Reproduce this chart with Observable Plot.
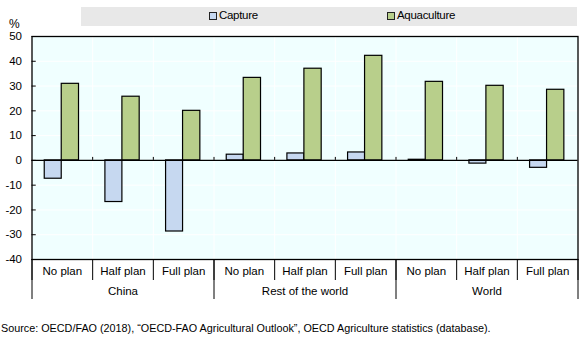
<!DOCTYPE html>
<html>
<head>
<meta charset="utf-8">
<script src="https://cdn.jsdelivr.net/npm/d3@7"></script>
<script src="https://cdn.jsdelivr.net/npm/@observablehq/plot@0.6"></script>
<style>
  body { margin: 0; background: #fff; font-family: "Liberation Sans", Arial, sans-serif; }
  #wrap { position: relative; width: 587px; height: 354px; }
  #legend { position: absolute; left: 81px; top: 7px; width: 496px; height: 19px; background: #E8E8E8; }
  .sw { position: absolute; width: 6px; height: 6px; border: 1px solid #222; top: 5px; }
  .lt { position: absolute; top: 2px; font-size: 11.5px; color: #000; letter-spacing: -0.3px; }
  #source { position: absolute; left: 1px; top: 322px; font-size: 10.8px; color: #000; white-space: nowrap; }
</style>
</head>
<body>
<div id="wrap">
  <div id="chart"></div>
  <div id="legend"></div>
  <div id="source">Source: OECD/FAO (2018), “OECD-FAO Agricultural Outlook”, OECD Agriculture statistics (database).</div>
</div>
<script>
const groups = ["China", "Rest of the world", "World"];
const plans = ["No plan", "Half plan", "Full plan"];
const seriesNames = ["Capture", "Aquaculture"];
const capture = [-7.4, -16.8, -28.7, 2.3, 2.8, 3.2, 0.25, -1.3, -3.0];
const aquaculture = [30.9, 25.7, 20.0, 33.3, 37.0, 42.2, 31.7, 30.1, 28.5];
const yTicks = [-40, -30, -20, -10, 0, 10, 20, 30, 40, 50];
const colors = ["#C6D8F0", "#B8CF8B"];

const rows = [];
groups.forEach((g, gi) => plans.forEach((p, pi) => {
  const i = gi * 3 + pi;
  rows.push({i, group: g, plan: p, capture: capture[i], aquaculture: aquaculture[i]});
}));
const boundaries = d3.range(1, 9);
const groupInfo = groups.map((g, gi) => ({g, gi}));

const chart = Plot.plot({
  width: 587,
  height: 310,
  marginTop: 36,
  marginBottom: 51,
  marginLeft: 31.5,
  marginRight: 9.5,
  style: {fontFamily: "'Liberation Sans', Arial, sans-serif", fontSize: "11px", color: "#000", background: "transparent"},
  x: {type: "linear", domain: [0, 9], axis: null},
  y: {domain: [-40, 50], axis: null},
  marks: [
    Plot.frame({fill: "#F0FFFF", stroke: null}),
    Plot.ruleY(yTicks, {stroke: "#fff", strokeWidth: 1}),
    Plot.ruleX(boundaries, {stroke: "#fff", strokeWidth: 1}),
    Plot.rect(rows, {x1: d => d.i + 0.21, x2: d => d.i + 0.49, y1: 0, y2: d => d.capture, fill: colors[0], stroke: "#000", strokeWidth: 1.2}),
    Plot.rect(rows, {x1: d => d.i + 0.49, x2: d => d.i + 0.775, y1: 0, y2: d => d.aquaculture, fill: colors[1], stroke: "#000", strokeWidth: 1.2}),
    Plot.ruleY([0], {stroke: "#000", strokeWidth: 1.2}),
    Plot.ruleX(boundaries, {y1: 0, y2: 1.2, stroke: "#000", strokeWidth: 1}),
    Plot.ruleY(yTicks, {x1: 0, x2: 0.07, stroke: "#000", strokeWidth: 1}),
    Plot.frame({stroke: "#000", strokeWidth: 1.3}),
    Plot.axisY({ticks: yTicks, tickSize: 0, tickPadding: 10, tickFormat: d => String(d), label: null, fontSize: 11.5}),
    Plot.axisX({ticks: d3.range(0, 10), tickSize: 21, tickFormat: () => "", label: null, stroke: "#000"}),
    Plot.axisX({ticks: [0, 3, 6, 9], tickSize: 40, tickFormat: () => "", label: null, stroke: "#000"}),
    Plot.text(rows, {x: d => d.i + 0.5, text: "plan", frameAnchor: "bottom", dy: 15, fontSize: 11.5}),
    Plot.text(groupInfo, {x: d => d.gi * 3 + 1.5, text: "g", frameAnchor: "bottom", dy: 35, fontSize: 11.5}),
    Plot.text(["%"], {frameAnchor: "top-left", dx: -23, dy: -17, fontSize: 12, textAnchor: "start"})
  ]
});
document.getElementById("chart").appendChild(chart);

const legend = document.getElementById("legend");
const legendPos = [[128, 138], [306, 316]];
seriesNames.forEach((name, k) => {
  const sw = document.createElement("div");
  sw.className = "sw";
  sw.style.left = legendPos[k][0] + "px";
  sw.style.background = colors[k];
  legend.appendChild(sw);
  const t = document.createElement("div");
  t.className = "lt";
  t.style.left = legendPos[k][1] + "px";
  t.textContent = name;
  legend.appendChild(t);
});
</script>
</body>
</html>
